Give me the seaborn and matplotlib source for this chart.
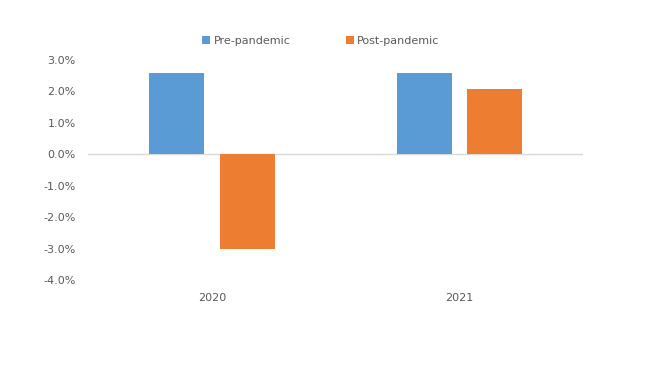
import pandas as pd
import seaborn as sns
import matplotlib.pyplot as plt
from matplotlib.ticker import PercentFormatter

years = ['2020', '2021']
pre_pandemic = [2.57, 2.57]
post_pandemic = [-3.0, 2.09]

df = pd.DataFrame({
    'year': years * 2,
    'growth': pre_pandemic + post_pandemic,
    'period': ['Pre-pandemic'] * 2 + ['Post-pandemic'] * 2,
})

sns.set_theme(style='white')
plt.rcParams['font.family'] = ['DejaVu Sans']
plt.rcParams['axes.unicode_minus'] = False
grey = '#595959'

fig = plt.figure(figsize=(6.53, 3.72), dpi=100)
ax = fig.add_axes([0.135, 0.247, 0.758, 0.592])
sns.barplot(data=df, x='year', y='growth', hue='period',
            palette=['#5b9bd5', '#ed7d31'], width=0.57, gap=0.22,
            saturation=1, linewidth=0, ax=ax)

ax.set_ylim(-4, 3)
ax.set_yticks(range(-4, 4))
ax.yaxis.set_major_formatter(PercentFormatter(decimals=1))
ax.axhline(0, color='#d9d9d9', lw=1, zorder=0)
sns.despine(ax=ax, left=True, bottom=True)
ax.set_xlabel('')
ax.set_ylabel('')
ax.tick_params(axis='both', length=0, labelsize=8, colors=grey)
ax.tick_params(axis='y', pad=9)
ax.tick_params(axis='x', pad=9)

handles, labels = ax.get_legend_handles_labels()
ax.legend(handles, labels, loc='center', bbox_to_anchor=(0.47, 1.086), ncol=2,
          frameon=False, fontsize=8, labelcolor=grey, handlelength=0.7,
          handleheight=0.7, columnspacing=5, handletextpad=0.3)

fig.savefig('out.png', dpi=100)
